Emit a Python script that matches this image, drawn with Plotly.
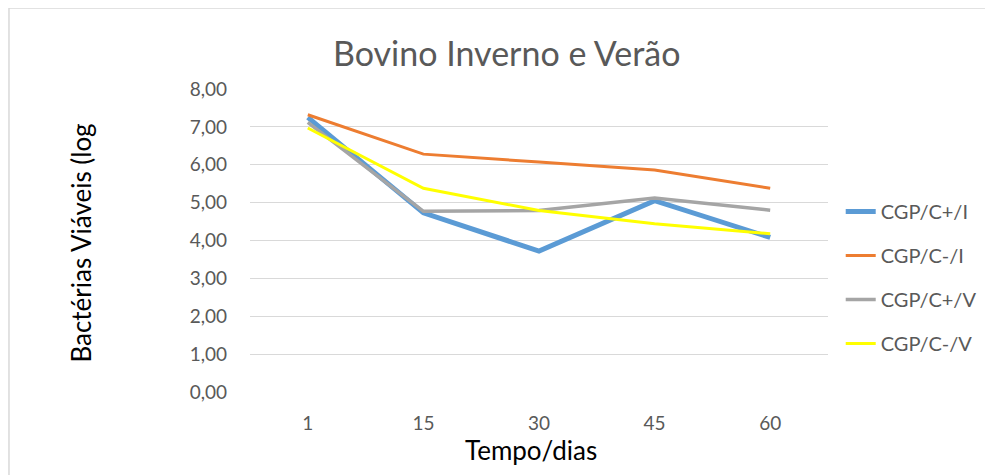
import plotly.graph_objects as go

# dados
dias = ['1', '15', '30', '45', '60']
cgp_cmais_i = [7.25, 4.73, 3.72, 5.05, 4.08]
cgp_cmenos_i = [7.32, 6.28, 6.07, 5.86, 5.38]
cgp_cmais_v = [7.12, 4.77, 4.79, 5.12, 4.80]
cgp_cmenos_v = [6.97, 5.38, 4.79, 4.44, 4.18]
yticks = [0, 1, 2, 3, 4, 5, 6, 7, 8]
yticklabels = ['0,00', '1,00', '2,00', '3,00', '4,00', '5,00', '6,00', '7,00', '8,00']

series = [
    ('CGP/C+/I', cgp_cmais_i, '#5B9BD5', 5),
    ('CGP/C-/I', cgp_cmenos_i, '#ED7D31', 3),
    ('CGP/C+/V', cgp_cmais_v, '#A5A5A5', 3.5),
    ('CGP/C-/V', cgp_cmenos_v, '#FFFF00', 3),
]

fig = go.Figure()
for i, (nome, vals, cor, w) in enumerate(series):
    fig.add_trace(go.Scatter(x=dias, y=vals, name=nome, mode='lines',
                             line=dict(color=cor, width=w), legendgroup='g%d' % i))

fonte = 'Lato'
cinza = '#595959'

# a pagina tem 8px de margem no body, por isso as margens sao compensadas
fig.update_layout(
    width=993, height=475,
    margin=dict(l=242, r=173, t=81, b=91),
    paper_bgcolor='white', plot_bgcolor='white',
    font=dict(family=fonte, color=cinza),
    showlegend=True,
    legend=dict(x=1.022, y=0.66, xanchor='left', yanchor='top',
                font=dict(size=20, color=cinza), tracegroupgap=15,
                bgcolor='rgba(0,0,0,0)'),
)
fig.update_xaxes(type='category', range=[-0.5, 4.5], showgrid=False, zeroline=False,
                 showline=False, ticks='', tickfont=dict(size=19, color=cinza),
                 ticklabelstandoff=18)
fig.update_yaxes(range=[0, 8], tickvals=yticks, ticktext=yticklabels, showgrid=True,
                 gridcolor='#d9d9d9', gridwidth=1, zeroline=False, showline=False,
                 ticks='', tickfont=dict(size=19, color=cinza), ticklabelstandoff=22)

# titulo e eixos
fig.add_annotation(text='Bovino Inverno e Verão', x=0.445, y=1.122, xref='paper', yref='paper',
                   xanchor='center', yanchor='middle',
                   showarrow=False, font=dict(size=34, color=cinza, family=fonte))
fig.add_annotation(text='Bactérias Viáveis (log', x=-0.294, y=0.49, xref='paper', yref='paper',
                   xanchor='center', yanchor='middle',
                   textangle=-90, showarrow=False, font=dict(size=26, color='black', family=fonte))
fig.add_annotation(text='Tempo/dias', x=0.486, y=-0.19, xref='paper', yref='paper',
                   xanchor='center', yanchor='middle',
                   showarrow=False, font=dict(size=26, color='black', family=fonte))

# moldura da area do grafico
fig.add_shape(type='rect', xref='paper', yref='paper', x0=-0.417, x1=2, y0=-1, y1=1.267,
              line=dict(color='#d9d9d9', width=1.5), layer='below')

fig.write_html('out.html')
